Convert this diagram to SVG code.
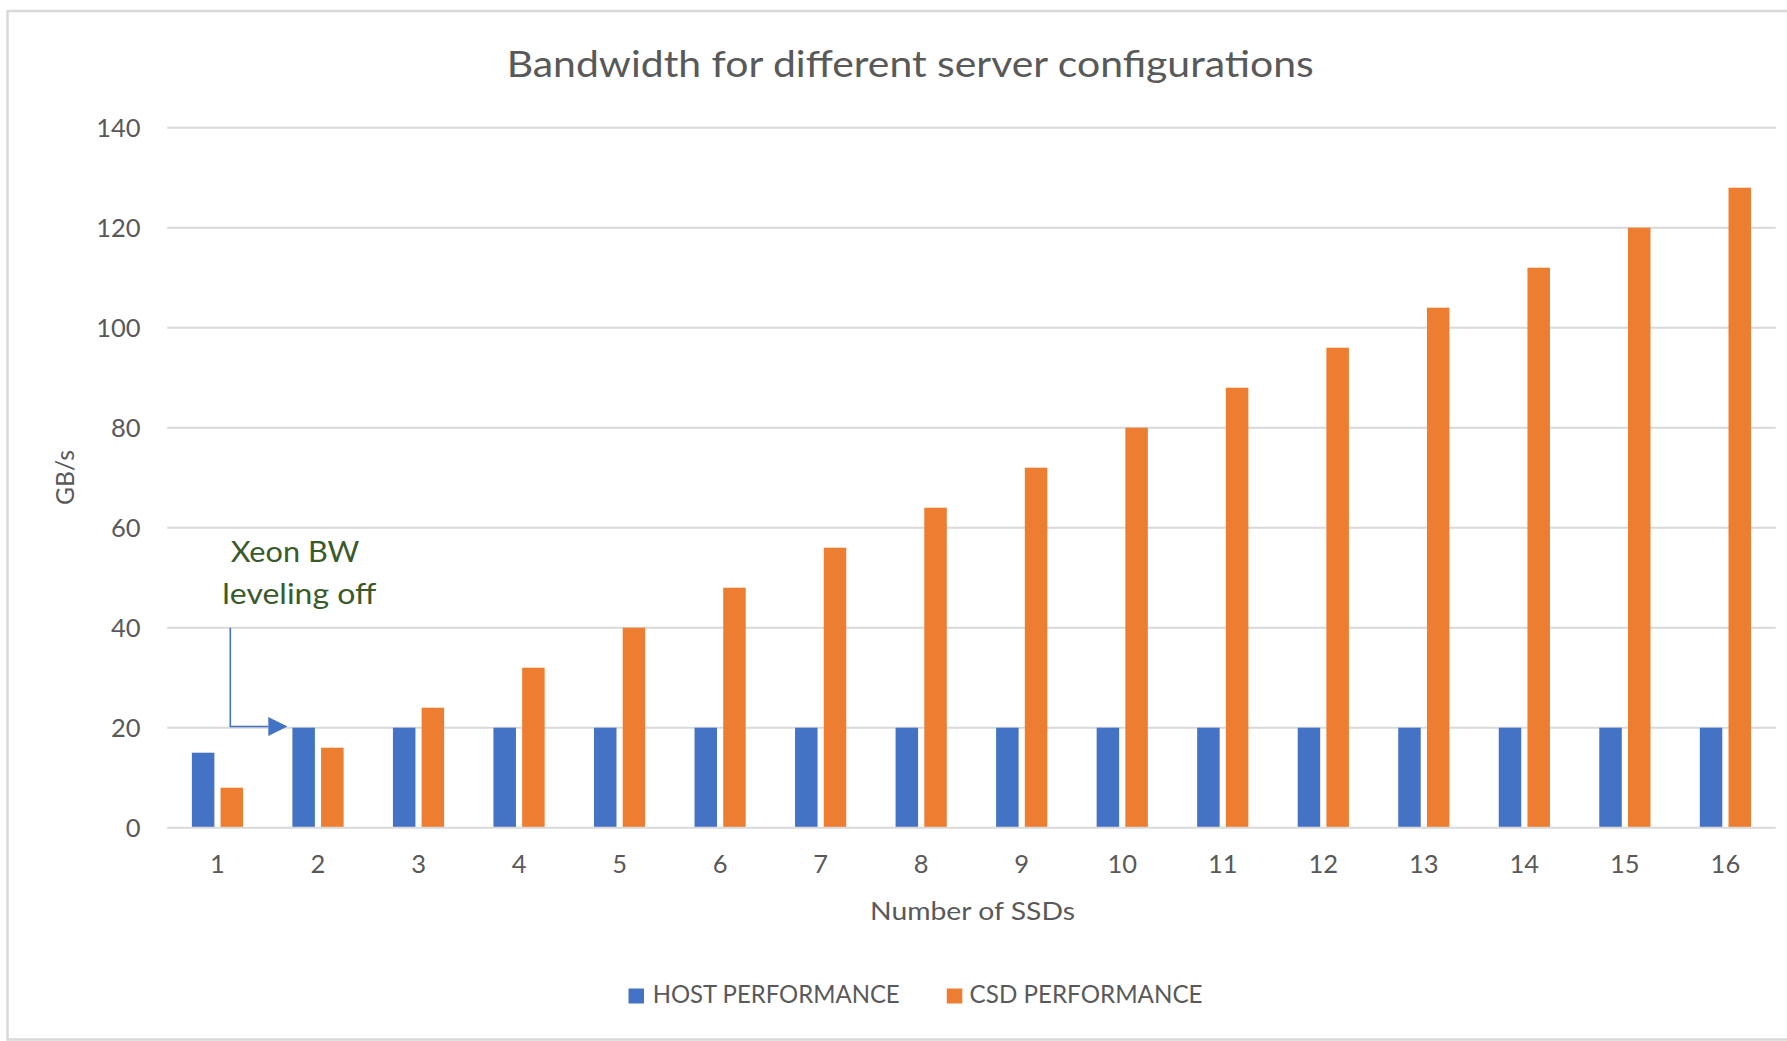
<svg xmlns="http://www.w3.org/2000/svg" width="1787" height="1041" viewBox="0 0 1787 1041">
  <style>
    .lbl { font-family: Lato, "Liberation Sans", sans-serif; fill: #595959; }
    .ytick { font-size: 25.5px; text-anchor: end; }
    .xtick { font-size: 25.5px; text-anchor: middle; }
    .grid { stroke: #d9d9d9; stroke-width: 2; fill: none; }
    .host { fill: #4472c4; }
    .csd { fill: #ed7d31; }
    .note { font-family: Lato, "Liberation Sans", sans-serif; fill: #3a5a2a; font-size: 29.5px; }
  </style>
  <defs>
    <marker id="arrowHead" viewBox="0 0 10 10" refX="0" refY="5" markerWidth="19" markerHeight="19" markerUnits="userSpaceOnUse" orient="auto">
      <path d="M0,0 L10,5 L0,10 z" fill="#4472c4"/>
    </marker>
  </defs>

  <!-- chart frame -->
  <rect id="frame" x="7.5" y="11" width="1800" height="1028.5" fill="#ffffff" stroke="#d9d9d9" stroke-width="2.5"/>

  <!-- title -->
  <text id="title" class="lbl" x="506.7" y="76.7" font-size="36.3" textLength="807" lengthAdjust="spacingAndGlyphs">Bandwidth for different server configurations</text>

  <!-- horizontal gridlines -->
  <g id="gridlines">
    <line class="grid" x1="167.2" y1="127.7" x2="1775.7" y2="127.7"/>
    <line class="grid" x1="167.2" y1="227.7" x2="1775.7" y2="227.7"/>
    <line class="grid" x1="167.2" y1="327.7" x2="1775.7" y2="327.7"/>
    <line class="grid" x1="167.2" y1="427.7" x2="1775.7" y2="427.7"/>
    <line class="grid" x1="167.2" y1="527.7" x2="1775.7" y2="527.7"/>
    <line class="grid" x1="167.2" y1="627.7" x2="1775.7" y2="627.7"/>
    <line class="grid" x1="167.2" y1="727.7" x2="1775.7" y2="727.7"/>
  </g>

  <!-- y axis labels -->
  <g id="y-axis" class="lbl ytick">
    <text x="140.5" y="137.3">140</text>
    <text x="140.5" y="237.3">120</text>
    <text x="140.5" y="337.3">100</text>
    <text x="140.5" y="437.3">80</text>
    <text x="140.5" y="537.3">60</text>
    <text x="140.5" y="637.3">40</text>
    <text x="140.5" y="737.3">20</text>
    <text x="140.5" y="837.3">0</text>
  </g>
  <text id="y-title" class="lbl" font-size="24.7" text-anchor="middle" transform="translate(74,477.5) rotate(-90)">GB/s</text>

  <!-- host performance series -->
  <g id="series-host" class="host">
    <rect x="191.87" y="752.7" width="22.5" height="75"/>
    <rect x="292.4" y="727.7" width="22.5" height="100"/>
    <rect x="392.93" y="727.7" width="22.5" height="100"/>
    <rect x="493.46" y="727.7" width="22.5" height="100"/>
    <rect x="593.99" y="727.7" width="22.5" height="100"/>
    <rect x="694.52" y="727.7" width="22.5" height="100"/>
    <rect x="795.05" y="727.7" width="22.5" height="100"/>
    <rect x="895.58" y="727.7" width="22.5" height="100"/>
    <rect x="996.11" y="727.7" width="22.5" height="100"/>
    <rect x="1096.64" y="727.7" width="22.5" height="100"/>
    <rect x="1197.17" y="727.7" width="22.5" height="100"/>
    <rect x="1297.7" y="727.7" width="22.5" height="100"/>
    <rect x="1398.23" y="727.7" width="22.5" height="100"/>
    <rect x="1498.76" y="727.7" width="22.5" height="100"/>
    <rect x="1599.29" y="727.7" width="22.5" height="100"/>
    <rect x="1699.82" y="727.7" width="22.5" height="100"/>
  </g>

  <!-- CSD performance series -->
  <g id="series-csd" class="csd">
    <rect x="220.57" y="787.7" width="22.5" height="40"/>
    <rect x="321.1" y="747.7" width="22.5" height="80"/>
    <rect x="421.63" y="707.7" width="22.5" height="120"/>
    <rect x="522.16" y="667.7" width="22.5" height="160"/>
    <rect x="622.69" y="627.7" width="22.5" height="200"/>
    <rect x="723.22" y="587.7" width="22.5" height="240"/>
    <rect x="823.75" y="547.7" width="22.5" height="280"/>
    <rect x="924.28" y="507.7" width="22.5" height="320"/>
    <rect x="1024.81" y="467.7" width="22.5" height="360"/>
    <rect x="1125.34" y="427.7" width="22.5" height="400"/>
    <rect x="1225.87" y="387.7" width="22.5" height="440"/>
    <rect x="1326.4" y="347.7" width="22.5" height="480"/>
    <rect x="1426.93" y="307.7" width="22.5" height="520"/>
    <rect x="1527.46" y="267.7" width="22.5" height="560"/>
    <rect x="1627.99" y="227.7" width="22.5" height="600"/>
    <rect x="1728.52" y="187.7" width="22.5" height="640"/>
  </g>

  <!-- category axis -->
  <line id="x-axis-line" class="grid" x1="167.2" y1="827.7" x2="1775.7" y2="827.7"/>
  <g id="x-axis" class="lbl xtick">
    <text x="217.47" y="873.3">1</text>
    <text x="318.0" y="873.3">2</text>
    <text x="418.53" y="873.3">3</text>
    <text x="519.06" y="873.3">4</text>
    <text x="619.59" y="873.3">5</text>
    <text x="720.12" y="873.3">6</text>
    <text x="820.65" y="873.3">7</text>
    <text x="921.18" y="873.3">8</text>
    <text x="1021.71" y="873.3">9</text>
    <text x="1122.24" y="873.3">10</text>
    <text x="1222.77" y="873.3">11</text>
    <text x="1323.3" y="873.3">12</text>
    <text x="1423.83" y="873.3">13</text>
    <text x="1524.36" y="873.3">14</text>
    <text x="1624.89" y="873.3">15</text>
    <text x="1725.42" y="873.3">16</text>
  </g>
  <text id="x-title" class="lbl" x="870" y="919.5" font-size="24.7" textLength="205" lengthAdjust="spacingAndGlyphs">Number of SSDs</text>

  <!-- annotation -->
  <g id="note-xeon">
    <text class="note" x="230.7" y="561.7" textLength="128.6" lengthAdjust="spacingAndGlyphs">Xeon BW</text>
    <text class="note" x="222.3" y="604.2" textLength="154" lengthAdjust="spacingAndGlyphs">leveling off</text>
  </g>
  <g id="connectors">
    <path d="M230.3,627.7 V726.5 H268.3" fill="none" stroke="#4472c4" stroke-width="1.6" marker-end="url(#arrowHead)"/>
  </g>

  <!-- legend -->
  <g id="legend" class="lbl" font-size="24.6">
    <rect class="host" x="628.5" y="988.5" width="15.5" height="15"/>
    <text x="652.7" y="1003.3" textLength="247" lengthAdjust="spacingAndGlyphs">HOST PERFORMANCE</text>
    <rect class="csd" x="946.8" y="988.5" width="15.5" height="15"/>
    <text x="969.6" y="1003.3" textLength="233" lengthAdjust="spacingAndGlyphs">CSD PERFORMANCE</text>
  </g>
</svg>
